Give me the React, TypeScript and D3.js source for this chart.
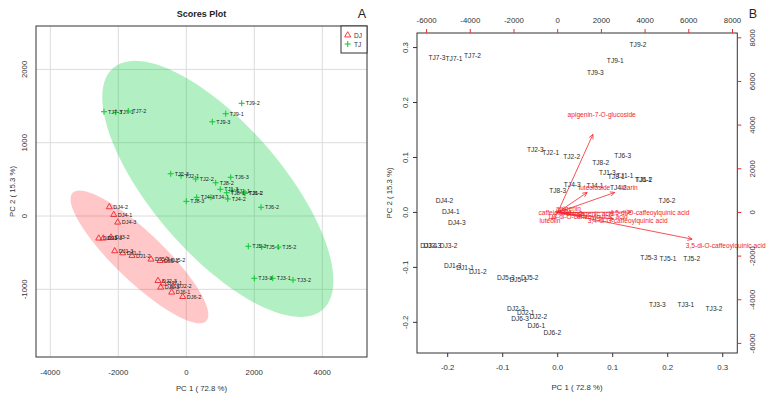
import React from 'react';
import * as d3 from 'd3';

const W = 779;
const H = 403;

// sample names
const djNames = ['DJ1-1', 'DJ1-2', 'DJ1-3', 'DJ2-1', 'DJ2-2', 'DJ2-3', 'DJ3-1', 'DJ3-2', 'DJ3-3',
  'DJ4-1', 'DJ4-2', 'DJ4-3', 'DJ5-1', 'DJ5-2', 'DJ5-3', 'DJ6-1', 'DJ6-2', 'DJ6-3'];
const tjNames = ['TJ1-1', 'TJ1-2', 'TJ1-3', 'TJ2-1', 'TJ2-2', 'TJ2-3', 'TJ3-1', 'TJ3-2', 'TJ3-3',
  'TJ4-1', 'TJ4-2', 'TJ4-3', 'TJ5-1', 'TJ5-2', 'TJ5-3', 'TJ6-1', 'TJ6-2', 'TJ6-3',
  'TJ7-1', 'TJ7-2', 'TJ7-3', 'TJ8-1', 'TJ8-2', 'TJ8-3', 'TJ9-1', 'TJ9-2', 'TJ9-3'];

// panel A scores
const djPc1 = [-1870, -1597, -2106, -676, -391, -832, -2576, -2215, -2441,
  -2135, -2265, -2018, -773, -576, -1038, -429, -106, -753];
const djPc2 = [-505, -541, -477, -918, -955, -883, -304, -291, -304,
  18, 123, -86, -610, -600, -591, -1041, -1101, -973];
const tjPc1 = [1344, 1726, 1000, -156, 276, -459, 2541, 3138, 2000,
  726, 1218, 306, 2218, 2706, 1824, 1706, 2197, 1306,
  -2076, -1706, -2421, 1188, 865, 0, 1159, 1629, 765];
const tjPc2 = [341, 310, 364, 550, 505, 577, -850, -873, -850,
  255, 232, 255, -423, -423, -413, 318, 119, 528,
  1414, 1432, 1423, 318, 454, 200, 1395, 1537, 1286];

// panel B scaled scores
const djB1 = [-0.1685, -0.1453, -0.1909, -0.0582, -0.0353, -0.0762, -0.234, -0.1985, -0.228,
  -0.1944, -0.2058, -0.1835, -0.0716, -0.0509, -0.0944, -0.0389, -0.0098, -0.0685];
const djB2 = [-0.1007, -0.1067, -0.0958, -0.1818, -0.1885, -0.1745, -0.0595, -0.0595, -0.0595,
  0.0011, 0.0224, -0.0182, -0.1218, -0.1189, -0.1189, -0.2062, -0.2182, -0.1927];
const tjB1 = [0.1224, 0.157, 0.0902, -0.0127, 0.0255, -0.0407, 0.2329, 0.2842, 0.1811,
  0.0678, 0.1102, 0.0265, 0.2005, 0.2436, 0.1656, 0.1556, 0.1987, 0.1182,
  -0.1885, -0.1549, -0.2195, 0.1065, 0.0782, 0.0, 0.1047, 0.146, 0.0684];
const tjB2 = [0.0665, 0.0596, 0.0727, 0.1091, 0.1011, 0.1138, -0.1673, -0.1745, -0.168,
  0.0496, 0.0455, 0.0509, -0.0844, -0.0844, -0.0818, 0.0605, 0.0224, 0.1042,
  0.2793, 0.2855, 0.2818, 0.0647, 0.0902, 0.0405, 0.2756, 0.3047, 0.2551];

// loadings (top / right axis units)
const loadNames = ['apigenin-7-O-glucoside', 'luteoloside', 'linarin', '3,5-di-O-caffeoylquinic acid',
  '4,5-di-O-caffeoylquinic acid', '3,4-di-O-caffeoylquinic acid', '1,3-di-O-caffeoylquinic acid',
  'caffeic acid', 'chlorogenic acid', 'luteolin', 'apigenin'];
const loadX = [2014, 1684, 3263, 7689, 4204, 3204, 1373, -124, 1478, -352, 494];
const loadY = [4467, 1144, 1144, -1529, 20, -384, -201, 14, -32, -384, 183];

const ticksA1 = [-4000, -2000, 0, 2000, 4000];
const ticksA2 = [-1000, 0, 1000, 2000];
const ticksB = [-0.2, -0.1, 0.0, 0.1, 0.2, 0.3];
const ticksTop = [-6000, -4000, -2000, 0, 2000, 4000, 6000, 8000];

const FONT = 'Liberation Sans, Arial, sans-serif';
const RED = '#F0262C';
const GREEN = '#1EC83C';

// 95% confidence ellipse from the group's covariance
function ellipse(xs: number[], ys: number[], n = 100) {
  const mx = d3.mean(xs)!;
  const my = d3.mean(ys)!;
  const sxx = d3.variance(xs)!;
  const syy = d3.variance(ys)!;
  let sxy = 0;
  xs.forEach((x, i) => { sxy += (x - mx) * (ys[i] - my); });
  sxy /= xs.length - 1;
  const tr = sxx + syy;
  const det = sxx * syy - sxy * sxy;
  const l1 = tr / 2 + Math.sqrt(tr * tr / 4 - det);
  const l2 = tr / 2 - Math.sqrt(tr * tr / 4 - det);
  const ang = Math.atan2(l1 - sxx, sxy);
  const t = Math.sqrt(-2 * Math.log(0.05));
  const pts: [number, number][] = [];
  for (let i = 0; i <= n; i++) {
    const th = (i / n) * 2 * Math.PI;
    const a = t * Math.sqrt(l1) * Math.cos(th);
    const b = t * Math.sqrt(l2) * Math.sin(th);
    pts.push([mx + a * Math.cos(ang) - b * Math.sin(ang), my + a * Math.sin(ang) + b * Math.cos(ang)]);
  }
  return pts;
}

const PanelA = () => {
  const x = d3.scaleLinear().domain([-4421, 5315]).range([36, 367]);
  const y = d3.scaleLinear().domain([-1923, 2592]).range([357, 26]);
  const line = d3.line<[number, number]>().x((d) => x(d[0])).y((d) => y(d[1]));
  const tri = d3.symbol().type(d3.symbolTriangle).size(16)()!;
  return (
    <g fontFamily={FONT}>
      <defs>
        <clipPath id="clipA"><rect x={36} y={26} width={331} height={331} /></clipPath>
      </defs>
      {ticksA1.map((t) => (
        <line key={'gx' + t} x1={x(t)} x2={x(t)} y1={26} y2={357} stroke="#dcdcdc" strokeWidth={1} />
      ))}
      {ticksA2.map((t) => (
        <line key={'gy' + t} x1={36} x2={367} y1={y(t)} y2={y(t)} stroke="#dcdcdc" strokeWidth={1} />
      ))}
      <g clipPath="url(#clipA)">
        <path d={line(ellipse(djPc1, djPc2))!} fill="rgb(255,0,0)" fillOpacity={0.22} />
        <path d={line(ellipse(tjPc1, tjPc2))!} fill="rgb(0,205,60)" fillOpacity={0.3} />
      </g>
      {djNames.map((n, i) => (
        <g key={n}>
          <path d={tri} transform={`translate(${x(djPc1[i])},${y(djPc2[i])})`} fill="none" stroke={RED} strokeWidth={0.9} />
          <text x={x(djPc1[i]) + 4} y={y(djPc2[i])} dominantBaseline="central" fontSize={5.5} fill="#222">{n}</text>
        </g>
      ))}
      {tjNames.map((n, i) => {
        const px = x(tjPc1[i]);
        const py = y(tjPc2[i]);
        return (
          <g key={n}>
            <line x1={px - 3} x2={px + 3} y1={py} y2={py} stroke={GREEN} strokeWidth={1.1} />
            <line x1={px} x2={px} y1={py - 3} y2={py + 3} stroke={GREEN} strokeWidth={1.1} />
            <text x={px + 4} y={py} dominantBaseline="central" fontSize={5.5} fill="#222">{n}</text>
          </g>
        );
      })}
      <rect x={36} y={26} width={331} height={331} fill="none" stroke="#333" strokeWidth={1} />
      {ticksA1.map((t) => (
        <text key={'tx' + t} x={x(t)} y={375} textAnchor="middle" fontSize={7.8} fill="#333">{t}</text>
      ))}
      {ticksA2.map((t) => (
        <text key={'ty' + t} transform={`translate(27,${y(t)}) rotate(-90)`} textAnchor="middle" fontSize={7.8} fill="#333">{t}</text>
      ))}
      <text x={201.5} y={391} textAnchor="middle" fontSize={7.8} fill="#333">PC 1 ( 72.8 %)</text>
      <text transform="translate(15,191.5) rotate(-90)" textAnchor="middle" fontSize={7.8} fill="#333">PC 2 ( 15.3 %)</text>
      <text x={201.5} y={17} textAnchor="middle" fontSize={9} fontWeight="bold" fill="#222">Scores Plot</text>
      <text x={362} y={18} textAnchor="middle" fontSize={12.5} fill="#222">A</text>
      <rect x={341} y={26} width={26} height={27} fill="#fff" stroke="#333" strokeWidth={1} />
      <path d={tri} transform="translate(347.7,35.2)" fill="none" stroke={RED} strokeWidth={0.9} />
      <text x={354} y={35} dominantBaseline="central" fontSize={6.5} fill="#333">DJ</text>
      <line x1={344.7} x2={350.7} y1={44} y2={44} stroke={GREEN} strokeWidth={1.1} />
      <line x1={347.7} x2={347.7} y1={41} y2={47} stroke={GREEN} strokeWidth={1.1} />
      <text x={354} y={44} dominantBaseline="central" fontSize={6.5} fill="#333">TJ</text>
    </g>
  );
};

const PanelB = () => {
  const x = d3.scaleLinear().domain([-0.2558, 0.3265]).range([417, 737.3]);
  const y = d3.scaleLinear().domain([-0.2558, 0.3265]).range([353, 33]);
  const xt = d3.scaleLinear().domain([-6439, 8220]).range([417, 737.3]);
  const yr = d3.scaleLinear().domain([-6439, 8220]).range([353, 33]);
  const ox = xt(0);
  const oy = yr(0);
  return (
    <g fontFamily={FONT}>
      {djNames.map((n, i) => (
        <text key={n} x={x(djB1[i])} y={y(djB2[i])} textAnchor="middle" dominantBaseline="central" fontSize={6.6} fill="#2a2a2a">{n}</text>
      ))}
      {tjNames.map((n, i) => (
        <text key={n} x={x(tjB1[i])} y={y(tjB2[i])} textAnchor="middle" dominantBaseline="central" fontSize={6.6} fill="#2a2a2a">{n}</text>
      ))}
      {loadNames.map((n, i) => {
        const ex = ox + (xt(loadX[i]) - ox) * 0.8;
        const ey = oy + (yr(loadY[i]) - oy) * 0.8;
        const a = Math.atan2(ey - oy, ex - ox);
        const h = 5;
        return (
          <g key={n}>
            <line x1={ox} y1={oy} x2={ex} y2={ey} stroke={RED} strokeWidth={0.8} />
            <path d={`M${ex - h * Math.cos(a - 0.45)},${ey - h * Math.sin(a - 0.45)}L${ex},${ey}L${ex - h * Math.cos(a + 0.45)},${ey - h * Math.sin(a + 0.45)}`}
              fill="none" stroke={RED} strokeWidth={0.8} />
            <text x={xt(loadX[i])} y={yr(loadY[i])} textAnchor="middle" dominantBaseline="central" fontSize={6.6} fill={RED}>{n}</text>
          </g>
        );
      })}
      <rect x={417} y={33} width={320.3} height={320} fill="none" stroke="#333" strokeWidth={1} />
      {ticksB.map((t) => (
        <g key={'b' + t}>
          <line x1={x(t)} x2={x(t)} y1={353} y2={357} stroke="#333" />
          <text x={x(t)} y={370} textAnchor="middle" fontSize={7.8} fill="#333">{t.toFixed(1)}</text>
          <line x1={413} x2={417} y1={y(t)} y2={y(t)} stroke="#333" />
          <text transform={`translate(408,${y(t)}) rotate(-90)`} textAnchor="middle" fontSize={7.8} fill="#333">{t.toFixed(1)}</text>
        </g>
      ))}
      {ticksTop.map((t) => (
        <g key={'t' + t}>
          <line x1={xt(t)} x2={xt(t)} y1={33} y2={29} stroke={RED} />
          <text x={xt(t)} y={23} textAnchor="middle" fontSize={7.8} fill="#333">{t}</text>
          {t <= 8000 && t >= -6000 ? (
            <>
              <line x1={737.3} x2={741.3} y1={yr(t)} y2={yr(t)} stroke={RED} />
              <text transform={`translate(754.5,${yr(t)}) rotate(-90)`} textAnchor="middle" fontSize={7.8} fill="#333">{t}</text>
            </>
          ) : null}
        </g>
      ))}
      <text x={577} y={390} textAnchor="middle" fontSize={7.8} fill="#333">PC 1 ( 72.8 %)</text>
      <text transform="translate(392,193) rotate(-90)" textAnchor="middle" fontSize={7.8} fill="#333">PC 2 ( 15.3 %)</text>
      <text x={753} y={18} textAnchor="middle" fontSize={12.5} fill="#222">B</text>
    </g>
  );
};

export default function App() {
  return (
    <svg width={W} height={H} style={{ position: 'absolute', left: 0, top: 0, background: '#fff' }}>
      <PanelA />
      <PanelB />
    </svg>
  );
}
